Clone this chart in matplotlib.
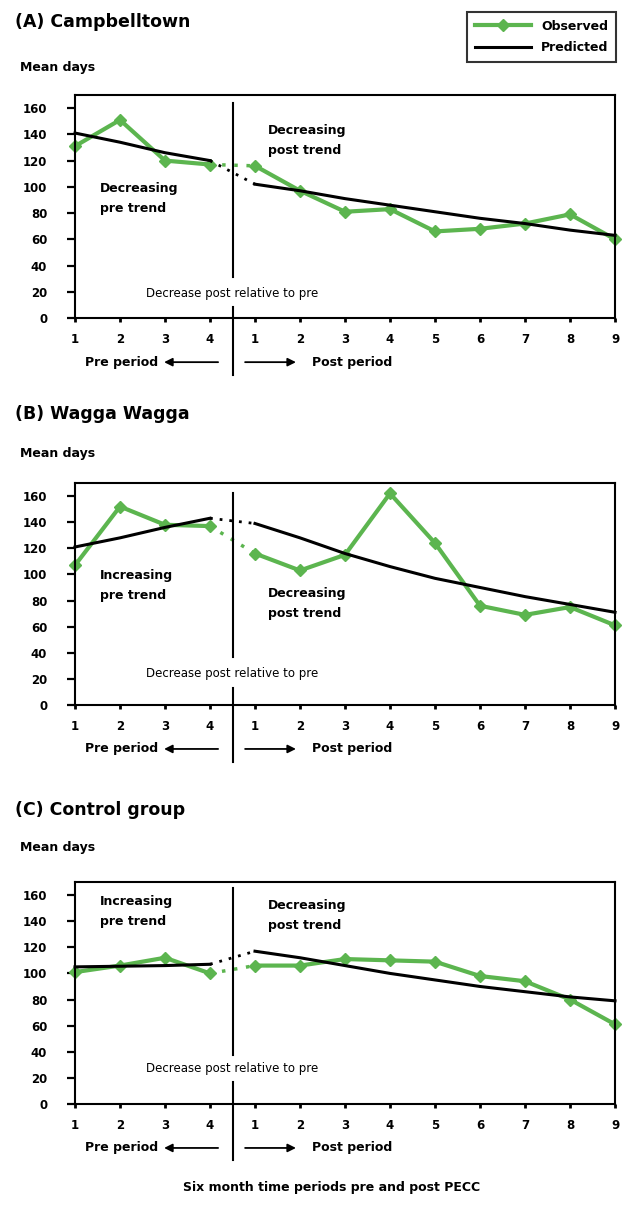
import matplotlib
matplotlib.use("Agg")
import matplotlib.pyplot as plt
import matplotlib.transforms as mtransforms
from matplotlib.lines import Line2D
import numpy as np

# tick labels
pre_labels = ["1", "2", "3", "4"]
post_labels = ["1", "2", "3", "4", "5", "6", "7", "8", "9"]
y_ticks = [0, 20, 40, 60, 80, 100, 120, 140, 160]

# (A) Campbelltown
campbell_obs_pre = [131, 151, 120, 117]
campbell_obs_post = [116, 97, 81, 83, 66, 68, 72, 79, 60]
campbell_pred_pre = [141, 134, 126, 120]
campbell_pred_post = [102, 97, 91, 86, 81, 76, 72, 67, 63]

# (B) Wagga Wagga
wagga_obs_pre = [107, 152, 138, 137]
wagga_obs_post = [116, 103, 115, 162, 124, 76, 69, 75, 61]
wagga_pred_pre = [121, 128, 136, 143]
wagga_pred_post = [139, 128, 116, 106, 97, 90, 83, 77, 71]

# (C) Control group
control_obs_pre = [101, 106, 112, 100]
control_obs_post = [106, 106, 111, 110, 109, 98, 94, 80, 61]
control_pred_pre = [105, 105.5, 106, 107]
control_pred_post = [117, 112, 106, 100, 95, 90, 86, 82, 79]

GREEN = "#5cb54f"
W, H = 627, 1205
fig = plt.figure(figsize=(W / 100, H / 100), dpi=100)


def px_axes(top, bottom, left=75, right=615):
    return [left / W, 1 - bottom / H, (right - left) / W, (bottom - top) / H]


panels = [
    dict(title="(A) Campbelltown", title_y=22, mean_y=67, box=(95, 318),
         obs=(campbell_obs_pre, campbell_obs_post),
         pred=(campbell_pred_pre, campbell_pred_post),
         pre_txt="Decreasing\npre trend", pre_pos=0.534,
         post_txt="Decreasing\npost trend", post_pos=0.798,
         div_up=(0.964, 0.184), div_lo=(0.049, -0.256), mid_txt=0.112),
    dict(title="(B) Wagga Wagga", title_y=414, mean_y=453, box=(483, 705),
         obs=(wagga_obs_pre, wagga_obs_post),
         pred=(wagga_pred_pre, wagga_pred_post),
         pre_txt="Increasing\npre trend", pre_pos=0.54,
         post_txt="Decreasing\npost trend", post_pos=0.455,
         div_up=(0.955, 0.216), div_lo=(0.077, -0.257), mid_txt=0.144),
    dict(title="(C) Control group", title_y=810, mean_y=848, box=(882, 1104),
         obs=(control_obs_pre, control_obs_post),
         pred=(control_pred_pre, control_pred_post),
         pre_txt="Increasing\npre trend", pre_pos=0.865,
         post_txt="Decreasing\npost trend", post_pos=0.847,
         div_up=(0.973, 0.221), div_lo=(0.099, -0.252), mid_txt=0.158),
]

n_pre = len(pre_labels)
x_pre = np.arange(n_pre)
x_post = np.arange(n_pre, n_pre + len(post_labels))
x_div = n_pre - 0.5

for p in panels:
    ax = fig.add_axes(px_axes(*p["box"]))
    obs_pre, obs_post = p["obs"]
    pred_pre, pred_post = p["pred"]

    # predicted
    ax.plot(x_pre, pred_pre, color="black", lw=2.2, zorder=3, clip_on=False)
    ax.plot(x_post, pred_post, color="black", lw=2.2, zorder=3, clip_on=False)
    ax.plot([x_pre[-1], x_post[0]], [pred_pre[-1], pred_post[0]], color="black",
            lw=2, ls=(0, (1, 2.5)), zorder=3)
    # observed
    ax.plot(x_pre, obs_pre, color=GREEN, lw=3, marker="D", ms=6, zorder=2, clip_on=False)
    ax.plot(x_post, obs_post, color=GREEN, lw=3, marker="D", ms=6, zorder=2, clip_on=False)
    ax.plot([x_pre[-1], x_post[0]], [obs_pre[-1], obs_post[0]], color=GREEN,
            lw=2.5, ls=(0, (1, 2.5)), zorder=2)

    ax.set_xlim(0, x_post[-1])
    ax.set_ylim(0, 170)
    ax.set_yticks(y_ticks)
    ax.set_xticks(np.concatenate([x_pre, x_post]))
    ax.set_xticklabels(pre_labels + post_labels)
    ax.tick_params(axis="y", length=6, width=1.6, pad=14, labelsize=8.5)
    ax.tick_params(axis="x", length=3, width=2, pad=8, labelsize=8.5)
    for lab in ax.get_xticklabels() + ax.get_yticklabels():
        lab.set_fontweight("bold")
    for sp in ax.spines.values():
        sp.set_linewidth(1.5)

    tr = mtransforms.blended_transform_factory(ax.transData, ax.transAxes)
    for y0, y1 in (p["div_up"], p["div_lo"]):
        ax.add_line(Line2D([x_div, x_div], [y0, y1], transform=tr, color="black",
                           lw=1.5, clip_on=False))
    ax.text(x_div, p["mid_txt"], "Decrease post relative to pre", transform=tr,
            ha="center", va="center", fontsize=8.5)

    ax.text(0.56, p["pre_pos"], p["pre_txt"], transform=tr, ha="left", va="center",
            fontsize=9, fontweight="bold", linespacing=1.7)
    ax.text(4.29, p["post_pos"], p["post_txt"], transform=tr, ha="left", va="center",
            fontsize=9, fontweight="bold", linespacing=1.7)

    # pre / post period labels with arrows
    yp = -0.198
    ax.text(1.84, yp, "Pre period", transform=tr, ha="right", va="center",
            fontsize=9, fontweight="bold")
    ax.annotate("", xy=(1.98, yp), xytext=(3.18, yp), xycoords=tr, textcoords=tr,
                arrowprops=dict(arrowstyle="-|>", lw=1.3, color="black",
                                mutation_scale=12, shrinkA=0, shrinkB=0))
    ax.annotate("", xy=(4.91, yp), xytext=(3.78, yp), xycoords=tr, textcoords=tr,
                arrowprops=dict(arrowstyle="-|>", lw=1.3, color="black",
                                mutation_scale=12, shrinkA=0, shrinkB=0))
    ax.text(5.27, yp, "Post period", transform=tr, ha="left", va="center",
            fontsize=9, fontweight="bold")

    fig.text(15 / W, 1 - p["title_y"] / H, p["title"], ha="left", va="center",
             fontsize=12.5, fontweight="bold")
    fig.text(20 / W, 1 - p["mean_y"] / H, "Mean days", ha="left", va="center",
             fontsize=9, fontweight="bold")

fig.text(332 / W, 1 - 1188 / H, "Six month time periods pre and post PECC",
         ha="center", va="center", fontsize=9, fontweight="bold")

handles = [
    Line2D([], [], color=GREEN, lw=3, marker="D", ms=6, label="Observed"),
    Line2D([], [], color="black", lw=2.2, label="Predicted"),
]
leg = fig.legend(handles=handles, loc="upper right",
                 bbox_to_anchor=(616 / W, 1 - 12 / H), borderaxespad=0,
                 fancybox=False, edgecolor="black", handlelength=4.5,
                 prop=dict(size=9, weight="bold"), borderpad=0.6, labelspacing=0.7)
leg.get_frame().set_linewidth(1.5)

fig.savefig("out.png", dpi=100)
